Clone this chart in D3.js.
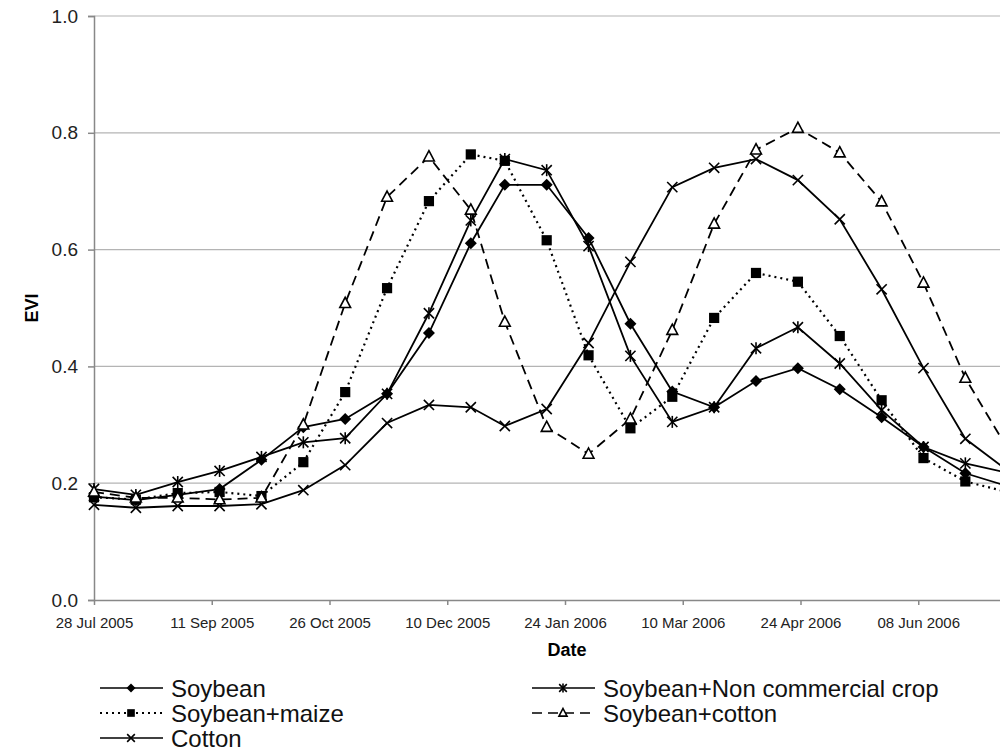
<!DOCTYPE html>
<html>
<head>
<meta charset="utf-8">
<script src="https://cdn.jsdelivr.net/npm/d3@7"></script>
<style>
  body { margin: 0; background: #fff; }
  svg { display: block; font-family: "Liberation Sans", Arial, sans-serif; }
</style>
</head>
<body>
<svg id="chart" width="1000" height="752"></svg>
<script>
// MODIS 16-day composite dates
const dates = ["2005-07-28","2005-08-13","2005-08-29","2005-09-14","2005-09-30","2005-10-16",
  "2005-11-01","2005-11-17","2005-12-03","2005-12-19","2006-01-01","2006-01-17","2006-02-02",
  "2006-02-18","2006-03-06","2006-03-22","2006-04-07","2006-04-23","2006-05-09","2006-05-25",
  "2006-06-10","2006-06-26","2006-07-12"];

const soybean = [0.177, 0.171, 0.18, 0.19, 0.24, 0.296, 0.31, 0.353, 0.457, 0.611, 0.711, 0.711,
  0.62, 0.473, 0.357, 0.33, 0.375, 0.397, 0.361, 0.313, 0.262, 0.217, 0.195];
const soyMaize = [0.176, 0.172, 0.183, 0.185, 0.178, 0.236, 0.356, 0.534, 0.683, 0.763, 0.752, 0.616,
  0.419, 0.294, 0.348, 0.483, 0.56, 0.545, 0.452, 0.342, 0.243, 0.203, 0.185];
const cotton = [0.163, 0.158, 0.161, 0.161, 0.164, 0.188, 0.231, 0.303, 0.334, 0.33, 0.298, 0.327,
  0.44, 0.579, 0.707, 0.74, 0.755, 0.719, 0.652, 0.532, 0.397, 0.276, 0.222];
const soyNonCommercial = [0.19, 0.18, 0.202, 0.221, 0.245, 0.27, 0.277, 0.353, 0.491, 0.65, 0.755, 0.736,
  0.606, 0.418, 0.305, 0.33, 0.431, 0.467, 0.405, 0.325, 0.262, 0.234, 0.218];
const soyCotton = [0.185, 0.175, 0.175, 0.172, 0.175, 0.30, 0.508, 0.69, 0.759, 0.668, 0.476, 0.296,
  0.25, 0.31, 0.462, 0.644, 0.771, 0.808, 0.766, 0.682, 0.543, 0.38, 0.26];

const tickLabels = ["2005-07-28","2005-09-11","2005-10-26","2005-12-10","2006-01-24",
  "2006-03-10","2006-04-24","2006-06-08"];
const yTicks = [0, 0.2, 0.4, 0.6, 0.8, 1.0];

const series = [
  {name: "Soybean", values: soybean, marker: "diamond", dash: null},
  {name: "Soybean+maize", values: soyMaize, marker: "square", dash: "2,4"},
  {name: "Cotton", values: cotton, marker: "x", dash: null},
  {name: "Soybean+Non commercial crop", values: soyNonCommercial, marker: "star", dash: null},
  {name: "Soybean+cotton", values: soyCotton, marker: "triangle", dash: "10,6"}
];

const parse = d3.utcParse("%Y-%m-%d");
const svg = d3.select("#chart");

const plotLeft = 94, plotTop = 16, plotBottom = 600, plotRight = 1036;
const x = d3.scaleUtc()
    .domain([parse("2005-07-28"), parse("2006-07-23")])
    .range([plotLeft, plotRight]);
const y = d3.scaleLinear().domain([0, 1]).range([plotBottom, plotTop]);

// gridlines
svg.append("g")
  .selectAll("line")
  .data(yTicks.filter(d => d > 0))
  .enter().append("line")
    .attr("x1", plotLeft).attr("x2", plotRight)
    .attr("y1", d => y(d)).attr("y2", d => y(d))
    .attr("stroke", "#b4b4b4").attr("stroke-width", 1.2);

// y axis
const yAxis = svg.append("g")
    .attr("transform", "translate(" + plotLeft + ",0)")
    .call(d3.axisLeft(y).tickValues(yTicks).tickFormat(d3.format(".1f")).tickSize(6).tickPadding(10));
yAxis.selectAll("path, line").attr("stroke", "#888").attr("stroke-width", 1.5);
yAxis.selectAll("text").attr("font-size", 19).attr("fill", "#222")
    .attr("font-family", "Liberation Sans, Arial, sans-serif");

// x axis
const xAxis = svg.append("g")
    .attr("transform", "translate(0," + plotBottom + ")")
    .call(d3.axisBottom(x).tickValues(tickLabels.map(parse))
      .tickFormat(d3.utcFormat("%d %b %Y")).tickSize(5).tickSizeOuter(0).tickPadding(12));
xAxis.selectAll("path, line").attr("stroke", "#888").attr("stroke-width", 1.5);
xAxis.selectAll("text").attr("font-size", 15).attr("fill", "#222")
    .attr("font-family", "Liberation Sans, Arial, sans-serif");

// axis titles
svg.append("text")
    .attr("x", 567).attr("y", 656)
    .attr("text-anchor", "middle")
    .attr("font-size", 18).attr("font-weight", "bold")
    .text("Date");
svg.append("text")
    .attr("transform", "translate(38," + ((plotTop + plotBottom) / 2) + ") rotate(-90)")
    .attr("text-anchor", "middle")
    .attr("font-size", 18).attr("font-weight", "bold")
    .text("EVI");

function drawMarker(g, type, r) {
  if (type === "diamond") {
    g.append("path").attr("d", `M0,${-r}L${r},0L0,${r}L${-r},0Z`).attr("fill", "#000");
  } else if (type === "square") {
    const s = r * 0.85;
    g.append("rect").attr("x", -s).attr("y", -s).attr("width", 2 * s).attr("height", 2 * s).attr("fill", "#000");
  } else if (type === "triangle") {
    g.append("path").attr("d", `M0,${-r}L${r * 0.9},${r * 0.7}L${-r * 0.9},${r * 0.7}Z`)
      .attr("fill", "#fff").attr("stroke", "#000").attr("stroke-width", 1.6);
  } else {
    const s = r * 0.85;
    g.append("path").attr("d", `M${-s},${-s}L${s},${s}M${-s},${s}L${s},${-s}`)
      .attr("stroke", "#000").attr("stroke-width", 1.6);
    if (type === "star") {
      g.append("path").attr("d", `M0,${-r}L0,${r}`).attr("stroke", "#000").attr("stroke-width", 1.6);
    }
  }
}

const line = d3.line()
    .x((d, i) => x(parse(dates[i])))
    .y(d => y(d));

// lines
series.forEach(s => {
  svg.append("path")
    .datum(s.values)
    .attr("d", line)
    .attr("fill", "none")
    .attr("stroke", "#000")
    .attr("stroke-width", s.dash === "2,4" ? 2.2 : 1.8)
    .attr("stroke-dasharray", s.dash);
});

// markers
series.forEach(s => {
  svg.append("g")
    .selectAll("g")
    .data(s.values)
    .enter().append("g")
      .attr("transform", (d, i) => "translate(" + x(parse(dates[i])) + "," + y(d) + ")")
      .each(function() { drawMarker(d3.select(this), s.marker, 6); });
});

// legend
const legendPos = [
  {x: 100, y: 688}, {x: 100, y: 713}, {x: 100, y: 738},
  {x: 532, y: 688}, {x: 532, y: 713}
];
series.forEach((s, i) => {
  const p = legendPos[i];
  const g = svg.append("g").attr("transform", "translate(" + p.x + "," + p.y + ")");
  g.append("line")
    .attr("x1", 0).attr("x2", 63)
    .attr("stroke", "#000")
    .attr("stroke-width", s.dash === "2,4" ? 2 : 1.6)
    .attr("stroke-dasharray", s.dash);
  const m = g.append("g").attr("transform", "translate(31,0)");
  drawMarker(m, s.marker, 4.5);
  g.append("text")
    .attr("x", 71).attr("y", 8.5)
    .attr("font-size", 24).attr("fill", "#111")
    .text(s.name);
});
</script>
</body>
</html>
